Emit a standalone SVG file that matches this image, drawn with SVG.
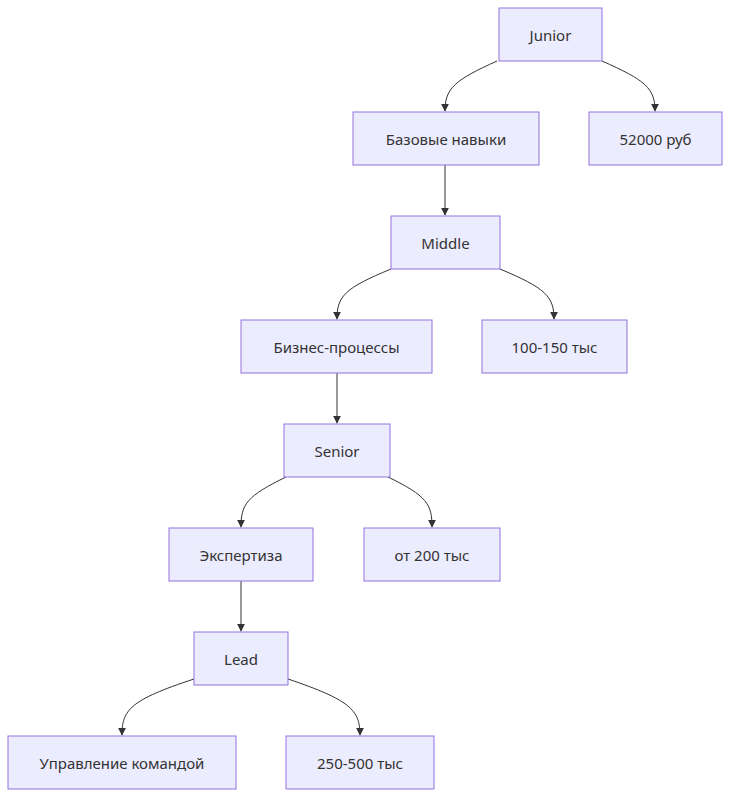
<svg xmlns="http://www.w3.org/2000/svg" width="730" height="798" viewBox="0 0 730 798">
<style>
.n rect{fill:#ECECFF;stroke:#9370DB;stroke-width:1}
.n text{font-family:"Noto Sans","DejaVu Sans",sans-serif;font-size:15px;fill:#333;text-anchor:middle;dominant-baseline:central}
.e path{fill:none;stroke:#333;stroke-width:1;marker-end:url(#a)}
</style>
<defs><marker id="a" viewBox="0 0 10 10" refX="9" refY="5" markerWidth="8" markerHeight="8" orient="auto"><path d="M0,0L10,5L0,10z" fill="#333"/></marker></defs>
<g class="e">
<path d="M497,61C455,80 445,88 445,111"/>
<path d="M602,61C645,80 655,88 655,111"/>
<path d="M445,165L445,215"/>
<path d="M391,269C345,288 337,296 337,319"/>
<path d="M500,269C545,288 554,296 554,319"/>
<path d="M337,373L337,423"/>
<path d="M286,477C247,496 241,504 241,527"/>
<path d="M388,477C427,496 432,504 432,527"/>
<path d="M241,581L241,631"/>
<path d="M194,679C130,700 122,710 122,735"/>
<path d="M288,679C350,700 360,710 360,735"/>
</g>
<g id="junior" class="n"><rect x="499" y="8" width="103" height="53"/><text x="550.5" y="34.5">Junior</text></g>
<g id="base" class="n"><rect x="353" y="112" width="186" height="53"/><text x="446" y="138.5">Базовые навыки</text></g>
<g id="s1" class="n"><rect x="589" y="112" width="133" height="53"/><text x="655.5" y="138.5">52000 руб</text></g>
<g id="middle" class="n"><rect x="391" y="216" width="109" height="53"/><text x="445.5" y="242.5">Middle</text></g>
<g id="biz" class="n"><rect x="241" y="320" width="191" height="53"/><text x="336.5" y="346.5">Бизнес-процессы</text></g>
<g id="s2" class="n"><rect x="482" y="320" width="145" height="53"/><text x="554.5" y="346.5">100-150 тыс</text></g>
<g id="senior" class="n"><rect x="284" y="424" width="106" height="53"/><text x="337" y="450.5">Senior</text></g>
<g id="exp" class="n"><rect x="169" y="528" width="144" height="53"/><text x="241" y="554.5">Экспертиза</text></g>
<g id="s3" class="n"><rect x="364" y="528" width="136" height="53"/><text x="432" y="554.5">от 200 тыс</text></g>
<g id="lead" class="n"><rect x="194" y="632" width="94" height="53"/><text x="241" y="658.5">Lead</text></g>
<g id="mgmt" class="n"><rect x="8" y="736" width="228" height="53"/><text x="122" y="762.5">Управление командой</text></g>
<g id="s4" class="n"><rect x="286" y="736" width="148" height="53"/><text x="360" y="762.5">250-500 тыс</text></g>
</svg>
